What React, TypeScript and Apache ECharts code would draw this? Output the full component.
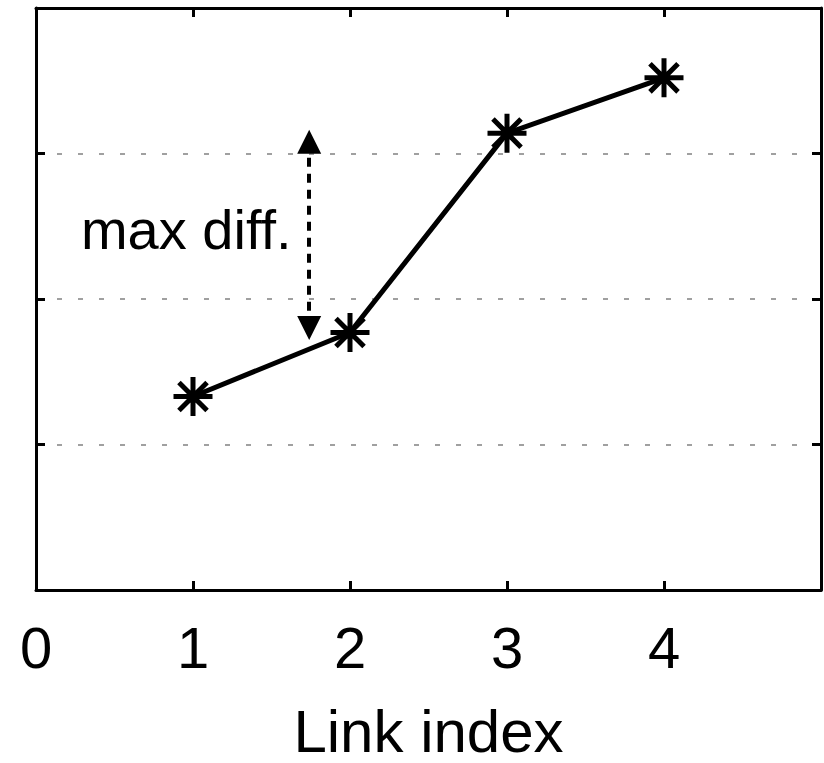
import React, { useEffect, useRef } from "react";
import * as echarts from "echarts";

const linkIndex = [1, 2, 3, 4];
const values = [1.33, 1.77, 3.14, 3.52];
const xTicks = ["0", "1", "2", "3", "4"];
const arrowX = 1.74;
const arrowTop = 3.08;
const arrowBottom = 1.8;
const noteText = "max diff.";
const notePos = [0.957, 2.475];

const FONT = "'Liberation Sans', Arial, sans-serif";
const STAR =
  "path://M50 0 L50 100 M0 50 L100 50 M14 14 L86 86 M86 14 L14 86";

export default function App() {
  const ref = useRef<HTMLDivElement>(null);
  useEffect(() => {
    const chart = echarts.init(ref.current!, null, { renderer: "svg" });
    const axisLine = { show: true, onZero: false, lineStyle: { color: "#000", width: 3 } };
    const tick = { show: true, inside: true, length: 9, lineStyle: { color: "#000", width: 3 } };
    chart.setOption({
      animation: false,
      backgroundColor: "#fff",
      grid: {
        left: 36,
        right: 3,
        top: 8,
        bottom: 173,
        containLabel: false,
        outerBoundsMode: "none",
      },
      xAxis: [
        {
          type: "value",
          min: 0,
          max: 5,
          interval: 1,
          name: "Link index",
          nameLocation: "middle",
          nameGap: 114,
          nameTextStyle: { fontFamily: FONT, fontSize: 60, lineHeight: 54, color: "#000" },
          axisLine,
          axisTick: tick,
          splitLine: { show: false },
          axisLabel: {
            margin: 28,
            fontFamily: FONT,
            fontSize: 58,
            color: "#000",
            formatter: (v: number) => (v <= 4 ? xTicks[v] : ""),
          },
        },
        {
          type: "value",
          position: "top",
          min: 0,
          max: 5,
          interval: 1,
          axisLine,
          axisTick: tick,
          axisLabel: { show: false },
          splitLine: { show: false },
        },
      ],
      yAxis: [
        {
          type: "value",
          min: 0,
          max: 4,
          interval: 1,
          axisLine,
          axisTick: tick,
          axisLabel: { show: false },
          splitLine: {
            show: true,
            lineStyle: { color: "#a0a0a0", width: 2, type: [5, 16] },
          },
        },
        {
          type: "value",
          position: "right",
          min: 0,
          max: 4,
          interval: 1,
          axisLine,
          axisTick: tick,
          axisLabel: { show: false },
          splitLine: { show: false },
        },
      ],
      series: [
        {
          type: "line",
          data: linkIndex.map((x, i) => [x, values[i]]),
          lineStyle: { color: "#000", width: 5 },
          symbol: STAR,
          symbolSize: 39,
          itemStyle: { color: "none", borderColor: "#000", borderWidth: 5 },
          silent: true,
          z: 5,
          markLine: {
            silent: true,
            symbol: ["triangle", "triangle"],
            symbolSize: [24, 24],
            label: { show: false },
            lineStyle: { color: "#000", width: 4, type: [9, 7] },
            data: [[{ coord: [arrowX, arrowTop] }, { coord: [arrowX, arrowBottom] }]],
          },
          markPoint: {
            silent: true,
            symbol: "circle",
            symbolSize: 1,
            itemStyle: { color: "rgba(0,0,0,0)" },
            label: {
              show: true,
              position: "inside",
              formatter: noteText,
              fontFamily: FONT,
              fontSize: 56,
              color: "#000",
            },
            data: [{ coord: notePos }],
          },
        },
      ],
    });
    return () => chart.dispose();
  }, []);
  return (
    <div
      ref={ref}
      style={{ position: "absolute", left: 0, top: 0, width: 824, height: 763 }}
    />
  );
}
